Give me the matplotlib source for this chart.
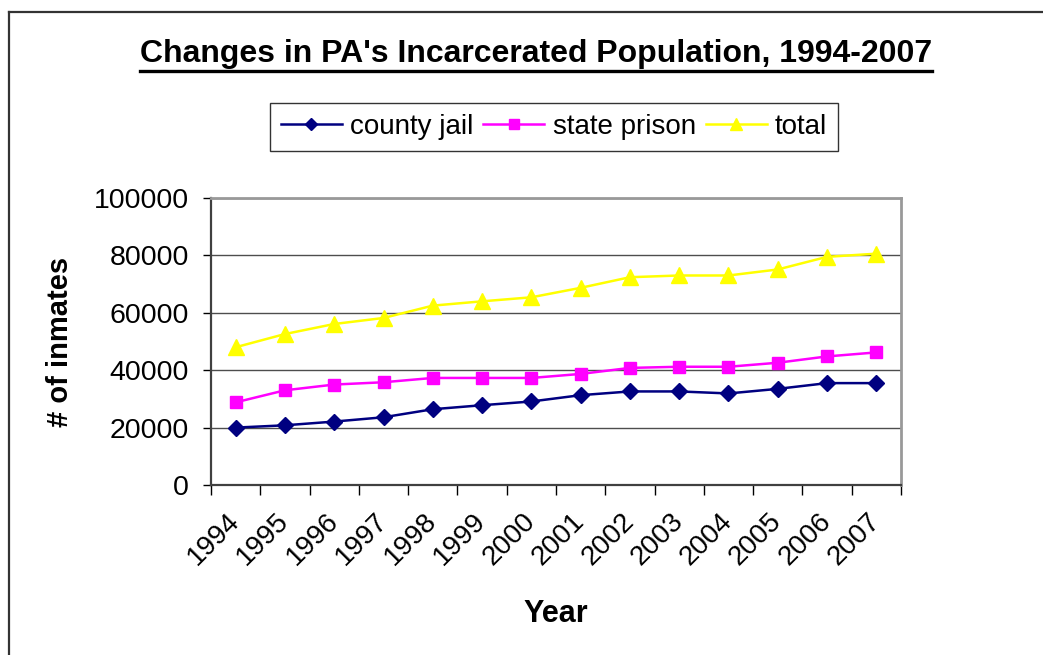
import matplotlib

matplotlib.use("Agg")
import matplotlib.pyplot as plt
from matplotlib.lines import Line2D
from matplotlib.ticker import FixedLocator

years = ["1994", "1995", "1996", "1997", "1998", "1999", "2000",
         "2001", "2002", "2003", "2004", "2005", "2006", "2007"]
county_jail = [20000, 20800, 22100, 23600, 26400, 27800, 29100,
               31300, 32600, 32600, 31900, 33500, 35500, 35500]
state_prison = [28800, 33000, 35000, 35800, 37300, 37300, 37300,
                38700, 40800, 41200, 41200, 42600, 44800, 46200]
total = [48000, 52600, 56100, 58200, 62500, 64000, 65400,
         68700, 72400, 73000, 73000, 75100, 79500, 80600]
y_ticks = [0, 20000, 40000, 60000, 80000, 100000]

plt.rcParams["font.family"] = ["Liberation Sans", "DejaVu Sans"]

fig = plt.figure(figsize=(10.43, 6.55), dpi=100)
ax = fig.add_axes([211 / 1043, 1 - 485 / 655, 690 / 1043, 287 / 655])

xs = list(range(len(years)))
ax.plot(xs, county_jail, color="#000080", marker="D", markersize=8,
        linewidth=1.8, label="county jail")
ax.plot(xs, state_prison, color="#ff00ff", marker="s", markersize=9,
        linewidth=1.8, label="state prison")
ax.plot(xs, total, color="#ffff00", marker="^", markersize=11,
        linewidth=1.8, label="total")

ax.set_xlim(-0.5, len(years) - 0.5)
ax.set_ylim(0, 100000)
ax.set_yticks(y_ticks)
ax.set_yticklabels([str(v) for v in y_ticks], fontsize=20.5)
ax.grid(True, axis="y", color="#4d4d4d", linewidth=1.0)
ax.set_axisbelow(True)

# category labels in the middle, tick marks on the boundaries
ax.set_xticks(xs)
ax.set_xticklabels(years, fontsize=20, rotation=45, ha="right", va="center",
                   rotation_mode="anchor")
ax.tick_params(axis="x", which="major", length=0, pad=23)
ax.xaxis.set_minor_locator(FixedLocator([i - 0.5 for i in range(len(years) + 1)]))
ax.tick_params(axis="x", which="minor", length=7, width=1, color="#000000")
ax.tick_params(axis="y", length=6, width=1, color="#000000", pad=10)

for spine in ("top", "right"):
    ax.spines[spine].set_color("#999999")
    ax.spines[spine].set_linewidth(2)
for spine in ("left", "bottom"):
    ax.spines[spine].set_color("#404040")
    ax.spines[spine].set_linewidth(1.6)

ax.set_xlabel("Year", fontsize=22, fontweight="bold", labelpad=21)
ax.set_ylabel("# of inmates", fontsize=21, fontweight="bold", labelpad=14)

title = fig.text(536 / 1043, 1 - 54 / 655,
                 "Changes in PA's Incarcerated Population, 1994-2007",
                 fontsize=23, fontweight="bold", ha="center", va="center")

leg = fig.legend(loc="center", bbox_to_anchor=(554 / 1043, 1 - 127 / 655),
                 ncol=3, fontsize=20, frameon=True, fancybox=False,
                 edgecolor="#000000", handlelength=2.2, handletextpad=0.3,
                 columnspacing=0.35, borderpad=0.4, markerscale=0.75)
leg.get_frame().set_linewidth(1.0)

# underline the title
fig.canvas.draw()
bb = title.get_window_extent().transformed(fig.transFigure.inverted())
fig.add_artist(Line2D([bb.x0, bb.x1], [1 - 71 / 655] * 2, color="black",
                      linewidth=2.4, transform=fig.transFigure))

# outer chart frame (top and left edges show in the crop)
fig.add_artist(Line2D([8.5 / 1043, 1.0], [1 - 12 / 655] * 2, color="#333333",
                      linewidth=1.6, transform=fig.transFigure))
fig.add_artist(Line2D([8.5 / 1043] * 2, [0.0, 1 - 12 / 655], color="#333333",
                      linewidth=1.6, transform=fig.transFigure))

fig.savefig("out.png", dpi=100)
